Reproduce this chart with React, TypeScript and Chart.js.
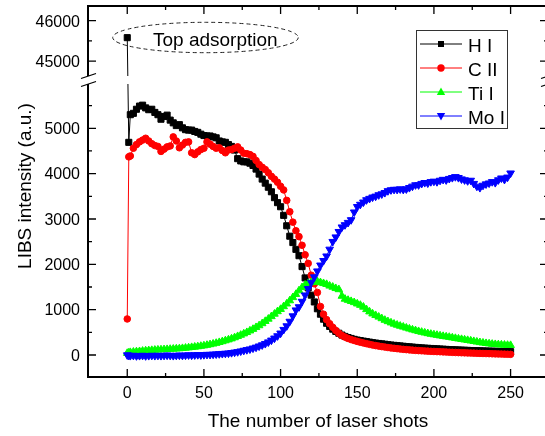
import React, { useEffect, useRef } from 'react';
import { Chart, registerables } from 'chart.js';

Chart.register(...registerables);

// ---- Data ----
const shots = [
  0, 1,
  2, 4, 6, 8, 10, 12, 14, 16, 18, 20,
  22, 24, 26, 28, 30, 32, 34, 36, 38, 40,
  42, 44, 46, 48, 50, 52, 54, 56, 58, 60,
  62, 64, 66, 68, 70, 72, 74, 76, 78, 80,
  82, 84, 86, 88, 90, 92, 94, 96, 98, 100,
  102, 104, 106, 108, 110, 112, 114, 116, 118, 120,
  122, 124, 126, 128, 130, 132, 134, 136, 138, 140,
  142, 144, 146, 148, 150, 152, 154, 156, 158, 160,
  162, 164, 166, 168, 170, 172, 174, 176, 178, 180,
  182, 184, 186, 188, 190, 192, 194, 196, 198, 200,
  202, 204, 206, 208, 210, 212, 214, 216, 218, 220,
  222, 224, 226, 228, 230, 232, 234, 236, 238, 240,
  242, 244, 246, 248, 250,
];

// H I: first shot lies on the upper (broken) part of the axis
const hITopShot = 0;
const hITopValue = 45580;
const hI: (number | null)[] = [
  null, 4690,
  5300, 5330, 5420, 5490, 5510, 5450, 5410, 5420, 5350, 5300,
  5200, 5260, 5290, 5180, 5120, 5060, 5080, 5010, 4970, 4960,
  4960, 4930, 4910, 4870, 4840, 4830, 4830, 4810, 4790, 4720,
  4700, 4690, 4640, 4600, 4520, 4330, 4280, 4260, 4260, 4230,
  4180, 4100, 3990, 3880, 3790, 3700, 3600, 3470, 3360, 3270,
  3080, 2850, 2620, 2480, 2330, 2190, 1950, 1700, 1480, 1320,
  1170, 1020, 900, 790, 700, 630, 570, 520, 480, 440,
  410, 385, 365, 345, 330, 318, 306, 295, 284, 272,
  263, 254, 246, 238, 228, 220, 213, 206, 200, 193,
  186, 180, 174, 168, 162, 157, 152, 148, 144, 140,
  136, 132, 128, 124, 120, 117, 114, 111, 108, 105,
  102, 99, 97, 95, 92, 90, 88, 86, 84, 82,
  80, 79, 78, 76, 75,
];

const cII = [
  795, 4370,
  4390, 4560, 4640, 4700, 4740, 4780, 4720, 4660, 4620, 4600,
  4490, 4540, 4590, 4610, 4810, 4720, 4570, 4630, 4690, 4700,
  4460, 4420, 4480, 4530, 4560, 4700, 4650, 4600, 4560, 4570,
  4510, 4460, 4520, 4530, 4560, 4590, 4520, 4450, 4440, 4420,
  4380, 4290, 4200, 4140, 4090, 4020, 3940, 3880, 3810, 3720,
  3640, 3410, 3160, 2930, 2740, 2610, 2420, 2210, 2020, 1760,
  1570, 1380, 1070, 900, 780, 690, 610, 540, 480, 430,
  395, 365, 340, 320, 300, 282, 266, 250, 235, 220,
  208, 196, 185, 175, 165, 156, 148, 140, 132, 125,
  119, 113, 107, 102, 97, 93, 89, 85, 81, 78,
  75, 72, 69, 66, 62, 59, 56, 53, 50, 48,
  45, 43, 41, 38, 36, 34, 32, 30, 27, 25,
  23, 21, 19, 17, 15,
];

const tiI = [
  40, 50,
  60, 68, 75, 80, 88, 95, 100, 105, 110, 115,
  118, 122, 126, 130, 134, 138, 142, 148, 155, 162,
  170, 178, 186, 196, 206, 218, 232, 246, 262, 280,
  298, 318, 338, 360, 385, 412, 440, 470, 500, 535,
  570, 610, 650, 695, 745, 795, 850, 905, 960, 1010,
  1070, 1130, 1200, 1270, 1340, 1420, 1490, 1545, 1580, 1600,
  1610, 1620, 1600, 1580, 1560, 1525, 1500, 1470, 1445, 1300,
  1235, 1210, 1185, 1160, 1130, 1100, 1060, 1005, 955, 910,
  875, 840, 805, 770, 740, 712, 685, 662, 640, 620,
  598, 578, 558, 540, 522, 506, 490, 475, 462, 450,
  438, 426, 414, 404, 394, 382, 370, 358, 347, 336,
  325, 314, 302, 290, 278, 268, 258, 250, 242, 235,
  230, 226, 222, 218, 215,
];

const moI = [
  0, -10,
  -15, -10, -20, -15, -10, -20, -15, -10, -15, -10,
  -15, -10, -5, -10, -15, -10, -5, -10, -5, 0,
  -5, 0, 5, 0, 5, 10, 10, 15, 20, 25,
  30, 35, 40, 50, 60, 70, 85, 100, 115, 130,
  150, 170, 195, 220, 250, 285, 325, 370, 420, 480,
  560, 640, 740, 860, 990, 1060, 1180, 1320, 1460, 1600,
  1720, 1850, 1980, 2080, 2180, 2330, 2500, 2600, 2720, 2820,
  2870, 2920, 2980, 3150, 3270, 3320, 3370, 3420, 3450, 3480,
  3500, 3530, 3550, 3580, 3620, 3640, 3650, 3650, 3660, 3650,
  3660, 3690, 3720, 3750, 3750, 3780, 3800, 3790, 3820, 3830,
  3820, 3850, 3870, 3860, 3890, 3910, 3930, 3910, 3880, 3860,
  3840, 3850, 3780, 3720, 3690, 3740, 3770, 3790, 3820, 3800,
  3860, 3900, 3870, 3920, 4010,
];

const seriesNames = ['H I', 'C II', 'Ti I', 'Mo I'];
const xMajorTicks = [0, 50, 100, 150, 200, 250];
const xMinorTicks = [25, 75, 125, 175, 225];
const yLowMajorTicks = [0, 1000, 2000, 3000, 4000, 5000];
const yLowMinorTicks = [500, 1500, 2500, 3500, 4500, 5500];
const yHighMajorTicks = [45000, 46000];
const yHighMinorTicks = [45500];
const xTitle = 'The number of laser shots';
const yTitle = 'LIBS intensity (a.u.)';
const annotationText = 'Top adsorption';

// ---- Styles ----
const FONT = '"Liberation Sans", Arial, Helvetica, sans-serif';
const COLORS = ['#000000', '#ff0000', '#00ff00', '#0000ff'];

const pts = (vals: (number | null)[]) => shots.map((s, i) => ({ x: s, y: vals[i] }));

function drawMarker(ctx: CanvasRenderingContext2D, kind: number, x: number, y: number) {
  ctx.fillStyle = COLORS[kind];
  ctx.beginPath();
  if (kind === 0) {
    ctx.rect(x - 3, y - 3, 6, 6);
  } else if (kind === 1) {
    ctx.arc(x, y, 3.7, 0, Math.PI * 2);
  } else if (kind === 2) {
    ctx.moveTo(x, y - 4.4);
    ctx.lineTo(x + 4.2, y + 2.9);
    ctx.lineTo(x - 4.2, y + 2.9);
    ctx.closePath();
  } else {
    ctx.moveTo(x, y + 4.4);
    ctx.lineTo(x + 4.2, y - 2.9);
    ctx.lineTo(x - 4.2, y - 2.9);
    ctx.closePath();
  }
  ctx.fill();
}

const decor = {
  id: 'decor',
  beforeDatasetsDraw(chart: any) {
    const ctx = chart.ctx as CanvasRenderingContext2D;
    const topPt = chart.getDatasetMeta(4).data[0];
    const firstIdx = hI.findIndex((v) => v !== null);
    const p1 = chart.getDatasetMeta(0).data[firstIdx];
    if (!topPt || !p1) return;
    ctx.save();
    ctx.strokeStyle = '#000';
    ctx.lineWidth = 1;
    ctx.beginPath();
    ctx.moveTo(topPt.x, topPt.y);
    ctx.lineTo(p1.x, p1.y);
    ctx.stroke();
    ctx.restore();
  },
  afterDatasetsDraw(chart: any) {
    const ctx = chart.ctx as CanvasRenderingContext2D;
    const { left, right, top, bottom } = chart.chartArea;
    const xs = chart.scales.x;
    const yl = chart.scales.y;
    const yh = chart.scales.y2;
    const brk = yh.bottom;
    const gap = 4;
    ctx.save();

    // break band
    ctx.fillStyle = '#fff';
    ctx.fillRect(left + 1, brk - gap, right - left - 2, gap * 2);

    // frame
    ctx.strokeStyle = '#000';
    ctx.lineWidth = 2;
    ctx.beginPath();
    ctx.moveTo(left - 1, top); ctx.lineTo(right + 1, top);
    ctx.moveTo(left - 1, bottom); ctx.lineTo(right + 1, bottom);
    ctx.moveTo(left, top); ctx.lineTo(left, brk - gap);
    ctx.moveTo(left, brk + gap); ctx.lineTo(left, bottom);
    ctx.moveTo(right, top); ctx.lineTo(right, brk - gap);
    ctx.moveTo(right, brk + gap); ctx.lineTo(right, bottom);
    ctx.stroke();

    // break slashes
    ctx.lineWidth = 1.3;
    ctx.beginPath();
    for (const s of [-1, 1]) {
      for (const xa of [left, right]) {
        const cy = brk + s * gap;
        ctx.moveTo(xa - 7, cy + 2.5);
        ctx.lineTo(xa + 8, cy - 2.5);
      }
    }
    ctx.stroke();

    // ticks
    const MAJ = 8, MIN = 4;
    ctx.lineWidth = 1.3;
    ctx.beginPath();
    const xt = (v: number, len: number) => {
      const px = xs.getPixelForValue(v);
      ctx.moveTo(px, bottom); ctx.lineTo(px, bottom - len);
      ctx.moveTo(px, top); ctx.lineTo(px, top + len);
    };
    const yt = (sc: any, v: number, len: number) => {
      const py = sc.getPixelForValue(v);
      ctx.moveTo(left, py); ctx.lineTo(left + len, py);
      ctx.moveTo(right, py); ctx.lineTo(right - len, py);
    };
    xMajorTicks.forEach((v) => xt(v, MAJ));
    xMinorTicks.forEach((v) => xt(v, MIN));
    yLowMajorTicks.forEach((v) => yt(yl, v, MAJ));
    yLowMinorTicks.forEach((v) => yt(yl, v, MIN));
    yHighMajorTicks.forEach((v) => yt(yh, v, MAJ));
    yHighMinorTicks.forEach((v) => yt(yh, v, MIN));
    ctx.stroke();

    // tick labels
    ctx.fillStyle = '#000';
    ctx.font = `16px ${FONT}`;
    ctx.textBaseline = 'alphabetic';
    ctx.textAlign = 'center';
    xMajorTicks.forEach((v) => ctx.fillText(String(v), xs.getPixelForValue(v), bottom + 21));
    ctx.textAlign = 'right';
    yLowMajorTicks.forEach((v) => ctx.fillText(String(v), left - 8, yl.getPixelForValue(v) + 5.8));
    yHighMajorTicks.forEach((v) => ctx.fillText(String(v), left - 8, yh.getPixelForValue(v) + 5.8));

    // axis titles
    ctx.font = `19px ${FONT}`;
    ctx.textAlign = 'center';
    ctx.fillText(xTitle, (left + right) / 2, 427);
    ctx.save();
    ctx.translate(31, 186);
    ctx.rotate(-Math.PI / 2);
    ctx.fillText(yTitle, 0, 0);
    ctx.restore();

    // annotation ellipse
    ctx.save();
    ctx.setLineDash([4, 3]);
    ctx.lineWidth = 1;
    ctx.strokeStyle = '#222';
    ctx.beginPath();
    ctx.ellipse(205.5, 37.5, 92.8, 15.2, 0, 0, Math.PI * 2);
    ctx.stroke();
    ctx.restore();
    ctx.textAlign = 'left';
    ctx.fillText(annotationText, 153, 46);

    // legend
    ctx.lineWidth = 1;
    ctx.strokeStyle = '#333';
    ctx.strokeRect(416.5, 30.5, 91, 98);
    seriesNames.forEach((name, i) => {
      const cy = 44 + i * 24;
      ctx.strokeStyle = COLORS[i];
      ctx.lineWidth = 1;
      ctx.beginPath();
      ctx.moveTo(420, cy);
      ctx.lineTo(462, cy);
      ctx.stroke();
      drawMarker(ctx, i, 441, cy);
      ctx.fillStyle = '#000';
      ctx.font = `19px ${FONT}`;
      ctx.textAlign = 'left';
      ctx.fillText(name, 468, cy + 7.5);
    });

    ctx.restore();
  },
};

export default function App() {
  const ref = useRef<HTMLCanvasElement>(null);
  useEffect(() => {
    if (!ref.current) return;
    const common = { borderWidth: 1, pointBorderWidth: 1, showLine: true, spanGaps: false };
    const chart = new Chart(ref.current, {
      type: 'line',
      data: {
        datasets: [
          {
            ...common, label: seriesNames[0], data: pts(hI), yAxisID: 'y',
            borderColor: COLORS[0], backgroundColor: COLORS[0],
            pointBackgroundColor: COLORS[0], pointBorderColor: COLORS[0],
            pointStyle: 'rect', pointRadius: 4.3, order: 4,
          },
          {
            ...common, label: seriesNames[1], data: pts(cII), yAxisID: 'y',
            borderColor: COLORS[1], backgroundColor: COLORS[1],
            pointBackgroundColor: COLORS[1], pointBorderColor: COLORS[1],
            pointStyle: 'circle', pointRadius: 3.3, order: 3,
          },
          {
            ...common, label: seriesNames[2], data: pts(tiI), yAxisID: 'y',
            borderColor: COLORS[2], backgroundColor: COLORS[2],
            pointBackgroundColor: COLORS[2], pointBorderColor: COLORS[2],
            pointStyle: 'triangle', pointRadius: 4.4, order: 2,
          },
          {
            ...common, label: seriesNames[3], data: pts(moI), yAxisID: 'y',
            borderColor: COLORS[3], backgroundColor: COLORS[3],
            pointBackgroundColor: COLORS[3], pointBorderColor: COLORS[3],
            pointStyle: 'triangle', pointRotation: 180, pointRadius: 4.4, order: 1,
          },
          {
            ...common, label: seriesNames[0] + ' top', data: [{ x: hITopShot, y: hITopValue }], yAxisID: 'y2',
            borderColor: COLORS[0], backgroundColor: COLORS[0],
            pointBackgroundColor: COLORS[0], pointBorderColor: COLORS[0],
            pointStyle: 'rect', pointRadius: 4.3, order: 5,
          },
        ] as any,
      },
      options: {
        animation: false,
        responsive: false,
        devicePixelRatio: 1,
        events: [],
        layout: { padding: { left: 88, right: 8, top: 6, bottom: 59 } },
        plugins: { legend: { display: false }, tooltip: { enabled: false } },
        scales: {
          x: { type: 'linear', display: false, min: -25.6, max: 274.4, bounds: 'data' },
          y: {
            type: 'linear', display: false, position: 'left', stack: 'brk', stackWeight: 297,
            min: -485, max: 6065, bounds: 'data',
          },
          y2: {
            type: 'linear', display: false, position: 'left', stack: 'brk', stackWeight: 74,
            min: 44530, max: 46365, bounds: 'data',
          },
        } as any,
      },
      plugins: [decor],
    } as any);
    return () => chart.destroy();
  }, []);
  return (
    <div style={{ position: 'fixed', left: 0, top: 0, width: 545, height: 436, overflow: 'hidden', background: '#fff' }}>
      <canvas ref={ref} width={556} height={436} style={{ display: 'block', width: 556, height: 436 }} />
    </div>
  );
}
